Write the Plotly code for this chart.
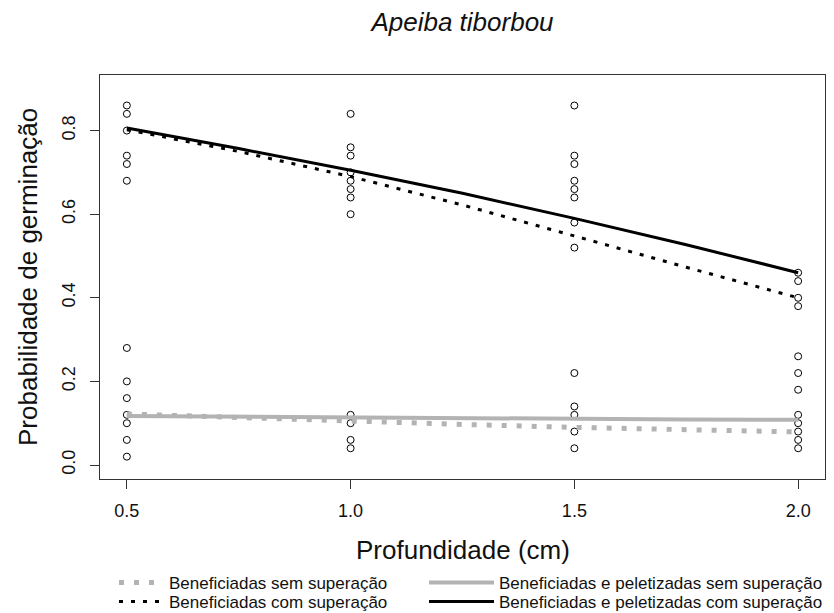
import plotly.graph_objects as go

# Observed germination probabilities (points) per depth
depth_obs = [0.5]*13 + [1.0]*12 + [1.5]*13 + [2.0]*12
prob_obs = [
    0.86, 0.84, 0.80, 0.74, 0.72, 0.68, 0.28, 0.20, 0.16, 0.12, 0.10, 0.06, 0.02,
    0.84, 0.76, 0.74, 0.70, 0.68, 0.66, 0.64, 0.60, 0.12, 0.10, 0.06, 0.04,
    0.86, 0.74, 0.72, 0.68, 0.66, 0.64, 0.58, 0.52, 0.22, 0.14, 0.12, 0.08, 0.04,
    0.46, 0.44, 0.40, 0.38, 0.26, 0.22, 0.18, 0.12, 0.10, 0.08, 0.06, 0.04,
]

# Fitted curves
depth_fit = [0.5, 0.75, 1.0, 1.25, 1.5, 1.75, 2.0]
benef_sem = [0.122, 0.113, 0.105, 0.097, 0.090, 0.085, 0.079]
benef_com = [0.802, 0.750, 0.690, 0.622, 0.548, 0.473, 0.400]
pelet_sem = [0.117, 0.115, 0.114, 0.112, 0.111, 0.109, 0.108]
pelet_com = [0.806, 0.757, 0.705, 0.650, 0.590, 0.527, 0.460]

names = [
    "Beneficiadas sem superação",
    "Beneficiadas com superação",
    "Beneficiadas e peletizadas sem superação",
    "Beneficiadas e peletizadas com superação",
]

x_ticks = [0.5, 1.0, 1.5, 2.0]
y_ticks = [0.0, 0.2, 0.4, 0.6, 0.8]

GRAY = "#b3b3b3"
FONT = "Liberation Sans, Arial, sans-serif"
# the page body adds an 8px margin, so the figure is 8px smaller on each axis
W, H = 826, 605
L, R, T, B = 92, 9, 67, 134
PW, PH = W - L - R, H - T - B

fig = go.Figure()

fig.add_trace(go.Scatter(
    x=depth_obs, y=prob_obs, mode="markers", showlegend=False,
    marker=dict(symbol="circle-open", size=7, color="black", line=dict(width=1, color="black")),
    hoverinfo="skip",
))

styles = [
    dict(color=GRAY, width=5, dash="5px,10px"),
    dict(color="black", width=3, dash="4px,8px"),
    dict(color=GRAY, width=4),
    dict(color="black", width=3),
]
series = [benef_sem, benef_com, pelet_sem, pelet_com]
legend_ids = ["legend", "legend2", "legend3", "legend4"]
for s, nm, st, lg in zip(series, names, styles, legend_ids):
    fig.add_trace(go.Scatter(x=depth_fit, y=s, mode="lines", name=nm, line=st, legend=lg))

axis_common = dict(
    showline=True, mirror=True, linecolor="#333", linewidth=1,
    ticks="outside", ticklen=9, tickcolor="#333", tickwidth=1,
    showgrid=False, zeroline=False,
    tickfont=dict(family=FONT, size=18, color="#111"),
)

def leg(x_px, y_px, iw):
    return dict(orientation="v", x=x_px / W, xref="container", xanchor="left",
                y=1 - y_px / H, yref="container", yanchor="top",
                font=dict(family=FONT, size=17, color="#111"),
                bgcolor="rgba(0,0,0,0)", itemwidth=iw, borderwidth=0)

fig.update_layout(
    width=W, height=H,
    paper_bgcolor="white", plot_bgcolor="white",
    margin=dict(l=L, r=R, t=T, b=B, autoexpand=False),
    font=dict(family=FONT, color="#111"),
    title=dict(text="<i>Apeiba tiborbou</i>", x=(L + PW / 2) / W, xref="container",
               xanchor="center", y=1 - 14 / H, yanchor="middle", yref="container",
               font=dict(family=FONT, size=26, color="#111")),
    xaxis=dict(range=[0.44, 2.06], tickvals=x_ticks, tickformat=".1f",
               ticklabelstandoff=6, **axis_common),
    yaxis=dict(range=[-0.0335, 0.933], tickvals=y_ticks, tickformat=".1f", tickangle=-90,
               ticklabelstandoff=8, **axis_common),
    legend=leg(106, 557, 45),
    legend2=leg(106, 576, 45),
    legend3=leg(416, 557, 65),
    legend4=leg(416, 576, 65),
    annotations=[
        dict(text="Profundidade (cm)", x=0.5, xref="paper",
             y=-(542 - (H - B)) / PH, yref="paper",
             xanchor="center", yanchor="middle",
             showarrow=False, font=dict(family=FONT, size=26, color="#111")),
        dict(text="Probabilidade de germinação", x=-(L - 20) / PW, xref="paper",
             y=0.5, yref="paper", xanchor="center", yanchor="middle",
             showarrow=False, textangle=-90, font=dict(family=FONT, size=26, color="#111")),
    ],
)

fig.write_html("out.html")
